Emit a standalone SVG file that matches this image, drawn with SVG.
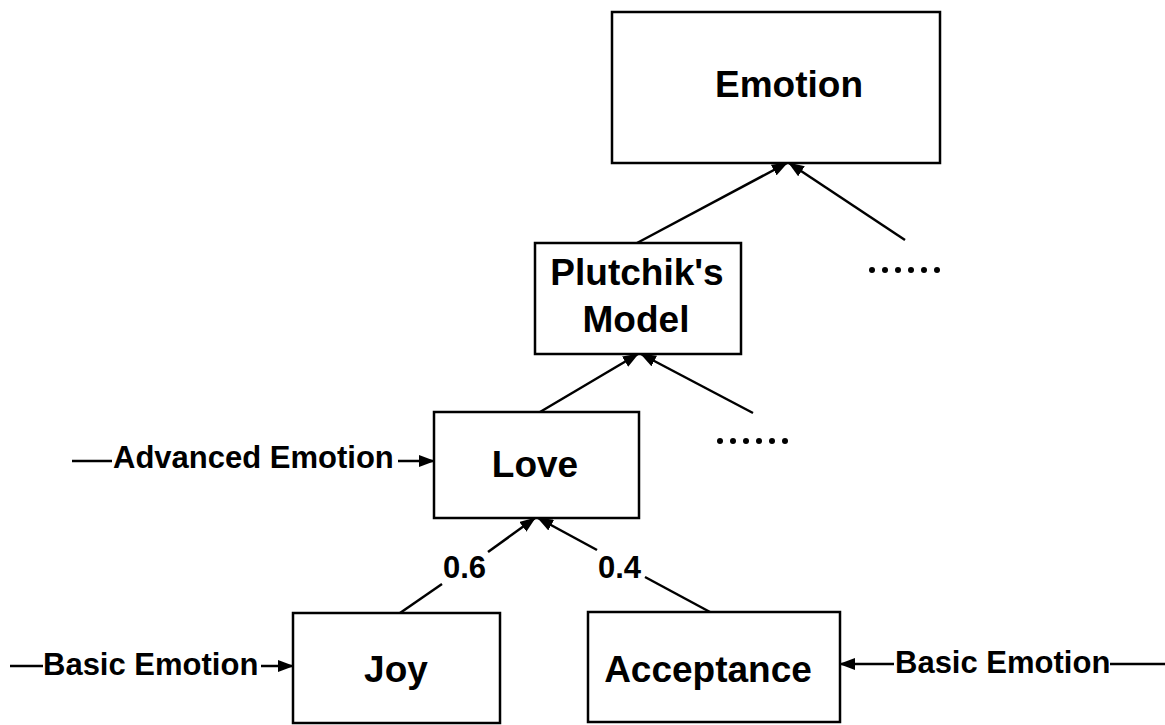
<svg xmlns="http://www.w3.org/2000/svg" width="1165" height="725" viewBox="0 0 1165 725">
  <style>
    .box { fill: #fff; stroke: #000; stroke-width: 2.5; }
    .big { font-family: "Liberation Sans", Arial, sans-serif; font-size: 37px; font-weight: bold; fill: #000; text-anchor: middle; }
    .lbl { font-family: "Liberation Sans", Arial, sans-serif; font-size: 31px; font-weight: bold; fill: #000; }
    .edge { stroke: #000; stroke-width: 2.5; fill: none; }
    .arr { marker-end: url(#head); }
  </style>
  <defs>
    <marker id="head" markerUnits="userSpaceOnUse" markerWidth="16" markerHeight="12" refX="15" refY="6" orient="auto">
      <path d="M0,0 L16,6 L0,12 Z" fill="#000"/>
    </marker>
  </defs>

  <rect width="1165" height="725" fill="#fff"/>

  <!-- nodes -->
  <g id="emotion">
    <rect class="box" x="612" y="12" width="328" height="151"/>
    <text class="big" x="789" y="97">Emotion</text>
  </g>
  <g id="plutchik">
    <rect class="box" x="535" y="243" width="206" height="111"/>
    <text class="big" x="637" y="285">Plutchik's</text>
    <text class="big" x="636" y="332">Model</text>
  </g>
  <g id="love">
    <rect class="box" x="434" y="412" width="205" height="106"/>
    <text class="big" x="535" y="477">Love</text>
  </g>
  <g id="joy">
    <rect class="box" x="293" y="613" width="207" height="110"/>
    <text class="big" x="396" y="682">Joy</text>
  </g>
  <g id="acceptance">
    <rect class="box" x="588" y="612" width="252" height="110"/>
    <text class="big" x="708" y="682">Acceptance</text>
  </g>
  <g id="more-models">
    <circle cx="872" cy="270" r="3"/><circle cx="885" cy="270" r="3"/><circle cx="898" cy="270" r="3"/>
    <circle cx="911" cy="270" r="3"/><circle cx="924" cy="270" r="3"/><circle cx="937" cy="270" r="3"/>
  </g>
  <g id="more-emotions">
    <circle cx="720" cy="441" r="3"/><circle cx="733" cy="441" r="3"/><circle cx="746" cy="441" r="3"/>
    <circle cx="759" cy="441" r="3"/><circle cx="772" cy="441" r="3"/><circle cx="785" cy="441" r="3"/>
  </g>

  <!-- connectors -->
  <g id="connectors">
    <line class="edge arr" x1="637" y1="243" x2="787" y2="163"/>
    <line class="edge arr" x1="905" y1="240" x2="789" y2="163"/>
    <line class="edge arr" x1="540" y1="412" x2="638" y2="354"/>
    <line class="edge arr" x1="753" y1="413" x2="641" y2="354"/>
    <!-- Joy to Love, weight 0.6 -->
    <line class="edge" x1="400" y1="613" x2="442" y2="584"/>
    <line class="edge arr" x1="488" y1="552" x2="535" y2="518"/>
    <text class="lbl" x="443" y="578">0.6</text>
    <!-- Acceptance to Love, weight 0.4 -->
    <line class="edge" x1="710" y1="612" x2="645" y2="577"/>
    <line class="edge arr" x1="597" y1="550" x2="538" y2="518"/>
    <text class="lbl" x="598" y="578">0.4</text>
    <!-- category markers -->
    <line class="edge" x1="72" y1="461" x2="112" y2="461"/>
    <text class="lbl" x="113" y="468">Advanced Emotion</text>
    <line class="edge arr" x1="398" y1="461" x2="434" y2="461"/>
    <line class="edge" x1="10" y1="666" x2="43" y2="666"/>
    <text class="lbl" x="43" y="675">Basic Emotion</text>
    <line class="edge arr" x1="261" y1="666" x2="293" y2="666"/>
    <line class="edge arr" x1="894" y1="664" x2="840" y2="664"/>
    <text class="lbl" x="895" y="673">Basic Emotion</text>
    <line class="edge" x1="1110" y1="664" x2="1165" y2="664"/>
  </g>
</svg>
